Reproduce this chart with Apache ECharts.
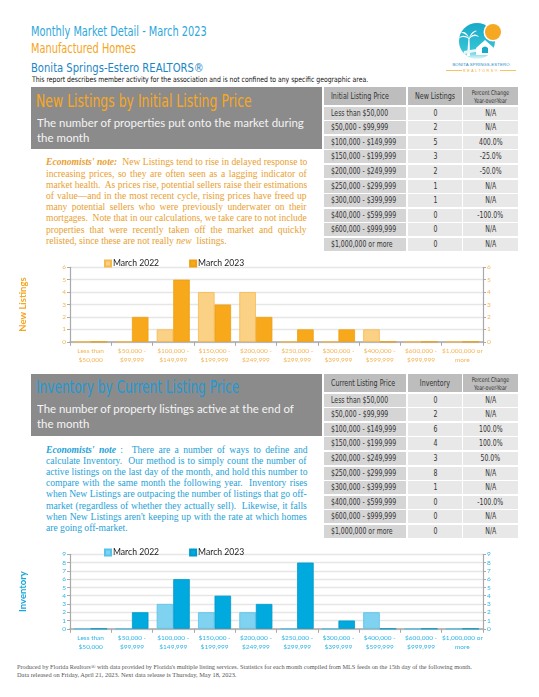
<!DOCTYPE html>
<html>
<head>
<meta charset="utf-8">
<script src="https://cdn.jsdelivr.net/npm/echarts/dist/echarts.min.js"></script>
<style>
  html, body { margin: 0; padding: 0; background: #fff; }
  #page { position: relative; width: 539px; height: 697px; overflow: hidden; }
  .t { position: absolute; white-space: nowrap; transform-origin: left center; }
  .narrow { font-family: "Liberation Sans Narrow", "DejaVu Sans Condensed", "Liberation Sans", sans-serif; }
  .cal { font-family: Lato, "Open Sans", sans-serif; }
  .serif { font-family: "Liberation Serif", "DejaVu Serif", serif; }
  .box { position: absolute; background: #8c8c8c; }
  .cell { position: absolute; height: 13px; line-height: 13px; font-size: 8.6px; color: #333; white-space: nowrap; overflow: hidden; }
  .cell span { display: inline-block; }
  .chart { position: absolute; left: 0; width: 539px; }
</style>
</head>
<body>
<div id="page"></div>
<script>
// ---- data ----
const categories = ["Less than\n$50,000", "$50,000 -\n$99,999", "$100,000 -\n$149,999", "$150,000 -\n$199,999",
  "$200,000 -\n$249,999", "$250,000 -\n$299,999", "$300,000 -\n$399,999", "$400,000 -\n$599,999",
  "$600,000 -\n$999,999", "$1,000,000 or\nmore"];
const tableRanges = ["Less than $50,000", "$50,000 - $99,999", "$100,000 - $149,999", "$150,000 - $199,999",
  "$200,000 - $249,999", "$250,000 - $299,999", "$300,000 - $399,999", "$400,000 - $599,999",
  "$600,000 - $999,999", "$1,000,000 or more"];
const newListings2022 = [0, 0, 1, 4, 4, 0, 0, 1, 0, 0];
const newListings2023 = [0, 2, 5, 3, 2, 1, 1, 0, 0, 0];
const newListingsPct = ["N/A", "N/A", "400.0%", "-25.0%", "-50.0%", "N/A", "N/A", "-100.0%", "N/A", "N/A"];
const inventory2022 = [0, 0, 3, 2, 2, 0, 0, 2, 0, 0];
const inventory2023 = [0, 2, 6, 4, 3, 8, 1, 0, 0, 0];
const inventoryPct = ["N/A", "N/A", "100.0%", "100.0%", "50.0%", "N/A", "N/A", "-100.0%", "N/A", "N/A"];
const legendNames = ["March 2022", "March 2023"];

const noteNew = [
  '<b><i>Economists\' note:</i></b>&nbsp; New Listings tend to rise in delayed response to',
  'increasing prices, so they are often seen as a lagging indicator of',
  'market health.&nbsp; As prices rise, potential sellers raise their estimations',
  'of value\u2014and in the most recent cycle, rising prices have freed up',
  'many potential sellers who were previously underwater on their',
  'mortgages.&nbsp; Note that in our calculations, we take care to not include',
  'properties that were recently taken off the market and quickly',
  'relisted, since these are not really <i>new</i>&nbsp; listings.'
];
const noteInv = [
  '<b><i>Economists\' note</i></b> :&nbsp; There are a number of ways to define and',
  'calculate Inventory.&nbsp; Our method is to simply count the number of',
  'active listings on the last day of the month, and hold this number to',
  'compare with the same month the following year.&nbsp; Inventory rises',
  'when New Listings are outpacing the number of listings that go off-',
  'market (regardless of whether they actually sell).&nbsp; Likewise, it falls',
  'when New Listings aren\'t keeping up with the rate at which homes',
  'are going off-market.'
];

const page = document.getElementById("page");

// text helper: cy = visual centre of the line, w = width to fit (scaleX)
function text(html, x, cy, fs, cls, color, w) {
  const d = document.createElement("div");
  d.className = "t " + cls;
  d.innerHTML = html;
  d.style.left = x + "px";
  d.style.top = (cy - fs / 2) + "px";
  d.style.fontSize = fs + "px";
  d.style.lineHeight = fs + "px";
  d.style.color = color;
  page.appendChild(d);
  if (w) {
    const nat = d.scrollWidth;
    d.style.transform = "scaleX(" + (w / nat) + ")";
  }
  return d;
}

// justified line: spread words to width w
function justLine(html, x, cy, fs, color, w, last) {
  const d = text(html, x, cy, fs, "serif", color, 0);
  if (last) return;
  const nat = d.scrollWidth;
  const gaps = (d.textContent.match(/[ \u00a0]/g) || []).length;
  if (nat < w && gaps) d.style.wordSpacing = ((w - nat) / gaps) + "px";
  else d.style.transform = "scaleX(" + (w / nat) + ")";
}

function rect(x, y, w, h, color) {
  const d = document.createElement("div");
  d.className = "box";
  Object.assign(d.style, { left: x + "px", top: y + "px", width: w + "px", height: h + "px", background: color });
  page.appendChild(d);
}

// table cell, text squeezed to look like a condensed face
function cell(html, x, y, w, h, bg, align, fs) {
  const d = document.createElement("div");
  d.className = "cell narrow";
  const origin = align === "left" ? "left center" : "center center";
  d.innerHTML = '<span style="transform:scaleX(0.8);transform-origin:' + origin + '">' + html + '</span>';
  Object.assign(d.style, { left: x + "px", top: y + "px", width: (w - (align === "left" ? 7 : 0)) + "px",
    height: h + "px", lineHeight: h + "px", background: bg, textAlign: align, fontSize: (fs || 8.6) + "px",
    paddingLeft: align === "left" ? "7px" : "0" });
  page.appendChild(d);
  return d;
}

function table(top, head1, head2, counts, pct) {
  const cols = [[324, 82], [408, 54], [463, 55]];
  cell(head1, cols[0][0], top, cols[0][1], 18, "#bdbdbd", "left", 8.8);
  cell(head2, cols[1][0], top, cols[1][1], 18, "#bdbdbd", "center", 8.8);
  cell('<div style="line-height:8px;padding-top:1.5px">Percent Change<br>Year-over-Year</div>',
    cols[2][0], top, cols[2][1], 18, "#bdbdbd", "center", 6.6);
  for (let i = 0; i < tableRanges.length; i++) {
    const y = top + 19.8 + i * 14.55;
    cell(tableRanges[i], cols[0][0], y, cols[0][1], 13, "#d5d5d5", "left");
    cell(String(counts[i]), cols[1][0], y, cols[1][1], 13, "#e8e8e8", "center");
    cell(pct[i], cols[2][0], y, cols[2][1], 13, "#e8e8e8", "center");
  }
}

// ---- header ----
text("Monthly Market Detail - March 2023", 31, 31, 14, "narrow", "#2ea7dd", 176);
text("Manufactured Homes", 31, 48, 14, "narrow", "#f5a623", 105);
text("Bonita Springs-Estero REALTORS\u00ae", 31, 67.5, 13, "narrow", "#1b86c4", 173);
text("This report describes member activity for the association and is not confined to any specific geographic area.",
  32, 79.5, 7.6, "narrow", "#111", 336);

// logo
const logo = document.createElement("div");
logo.style.position = "absolute"; logo.style.left = "440px"; logo.style.top = "18px";
logo.innerHTML = '<svg width="85" height="60" viewBox="0 0 85 60">' +
  '<defs><linearGradient id="lg" x1="0" y1="0" x2="0" y2="1"><stop offset="0" stop-color="#17a9c9"/><stop offset="0.75" stop-color="#36c3d6"/><stop offset="1" stop-color="#e8f8fa"/></linearGradient></defs>' +
  '<circle cx="37" cy="23" r="18" fill="url(#lg)"/>' +
  '<circle cx="53" cy="14" r="9.5" fill="#fff"/><circle cx="53" cy="14" r="8" fill="#f7a823"/>' +
  '<path d="M27 38 L28.5 20 L29.5 20 L30 38 Z" fill="#fff"/>' +
  '<path d="M29 20 C24 16 20 18 18 21 C22 18 26 19 29 21 Z M29 20 C33 15 37 16 39 19 C35 17 32 18 29 21 Z M29 20 C27 14 23 13 21 15 C24 15 27 17 29 20 Z M29 20 C31 14 35 12 37 13 C34 14 31 17 29 20 Z" fill="#fff"/>' +
  '<path d="M36 30 L45 22 L54 30 L54 37 L36 37 Z" fill="#fff"/><path d="M42 35 L42 30 Q45 27 48 30 L48 35 Z" fill="#1aa8c8"/>' +
  '<path d="M24 33 L36 31 L36 34 L24 36 Z" fill="#e9f7fa"/>' +
  '<text x="41" y="48" font-size="4.3" text-anchor="middle" fill="#1f8dc6" font-family="Liberation Sans Narrow, sans-serif" letter-spacing="0.1">BONITA SPRINGS-ESTERO</text>' +
  '<line x1="6" y1="52.5" x2="22" y2="52.5" stroke="#f5a623" stroke-width="0.7"/><line x1="60" y1="52.5" x2="76" y2="52.5" stroke="#f5a623" stroke-width="0.7"/>' +
  '<text x="41" y="54" font-size="3.6" text-anchor="middle" fill="#f5a623" font-family="Liberation Sans, sans-serif" letter-spacing="1.6">REALTORS\u00ae</text>' +
  '</svg>';
page.appendChild(logo);

// ---- section 1: new listings ----
rect(31, 87, 291, 62, "#8b8b8b");
text("New Listings by Initial Listing Price", 36, 101, 17, "narrow", "#f7a823", 216);
text("The number of properties put onto the market during", 37, 122.5, 11.5, "cal", "#f4f4f4", 267);
text("the month", 37, 137.5, 11.5, "cal", "#f4f4f4", 52);
table(87, "Initial Listing Price", "New Listings", newListings2023, newListingsPct);
const c1 = [162, 173.3, 184.3, 195.7, 207, 218.2, 229.4, 240.7];
noteNew.forEach((l, i) => justLine(l, 46, c1[i], 9.6, "#e9a030", 261, i === noteNew.length - 1));

// ---- section 2: inventory ----
rect(31, 374, 291, 62, "#8b8b8b");
text("Inventory by Current Listing Price", 36, 387.5, 17, "narrow", "#1c9ad6", 203);
text("The number of property listings active at the end of", 37, 408.5, 11.5, "cal", "#f4f4f4", 257);
text("the month", 37, 423.5, 11.5, "cal", "#f4f4f4", 52);
table(374, "Current Listing Price", "Inventory", inventory2023, inventoryPct);
const c2 = [449.3, 460.7, 471.8, 483, 494.2, 505.4, 516.7, 528];
noteInv.forEach((l, i) => justLine(l, 46, c2[i], 9.6, "#1ea2d8", 261, i === noteInv.length - 1));

// ---- footer ----
text("Produced by Florida Realtors\u00ae with data provided by Florida's multiple listing services. Statistics for each month compiled from MLS feeds on the 15th day of the following month.",
  17, 667, 6.6, "serif", "#555", 455);
text("Data released on Friday, April 21, 2023. Next data release is Thursday, May 18, 2023.",
  17, 675.5, 6.6, "serif", "#555", 219);

// ---- charts ----
function makeChart(top, height, gridTop, max, d2022, d2023, colors, name, nameColor, labelColor) {
  const el = document.createElement("div");
  el.className = "chart";
  el.style.top = top + "px";
  el.style.height = height + "px";
  page.appendChild(el);
  const chart = echarts.init(el, null, { renderer: "canvas" });
  const yAxisBase = {
    type: "value",
    min: 0,
    max: max,
    interval: 1,
    axisLine: { show: true, lineStyle: { color: "#a9a9a9", width: 1.2 } },
    axisTick: { show: true, length: 3, lineStyle: { color: "#a9a9a9" } },
    axisLabel: { fontSize: 6.5, color: labelColor, margin: 4, fontFamily: "Lato" }
  };
  chart.setOption({
    animation: false,
    textStyle: { fontFamily: "Lato" },
    legend: {
      data: legendNames,
      top: 4,
      left: 99,
      itemWidth: 6,
      itemHeight: 6,
      itemGap: 30,
      icon: "rect",
      textStyle: { fontSize: 8.6, color: "#222", padding: [0, 0, 0, -3] }
    },
    grid: { left: 70, right: 56, top: gridTop, height: 74.5 },
    xAxis: {
      type: "category",
      data: categories,
      axisLine: { lineStyle: { color: "#a9a9a9", width: 1.5 } },
      axisTick: { show: true, length: 4, lineStyle: { color: "#a9a9a9" } },
      axisLabel: { interval: 0, fontSize: 6.5, lineHeight: 8.5, color: labelColor, margin: 5 }
    },
    yAxis: [
      Object.assign({}, yAxisBase, {
        name: name,
        nameLocation: "middle",
        nameGap: 42,
        nameTextStyle: { fontSize: 9.5, color: nameColor, fontWeight: "bold" },
        splitLine: { lineStyle: { color: "#e6e6e6", width: 1.3 } }
      }),
      Object.assign({}, yAxisBase, { position: "right", splitLine: { show: false } })
    ],
    series: [
      {
        name: legendNames[0],
        type: "bar",
        data: d2022,
        barGap: 0,
        barCategoryGap: "20%",
        itemStyle: { color: colors[0], borderColor: colors[1], borderWidth: 0.8 }
      },
      {
        name: legendNames[1],
        type: "bar",
        data: d2023,
        itemStyle: { color: colors[2], borderColor: colors[3], borderWidth: 0.8 }
      }
    ]
  });
}

makeChart(250, 122, 17.3, 6, newListings2022, newListings2023,
  ["#fbd186", "#f5b94e", "#f7a81b", "#ef9f12"], "New Listings", "#f5a623", "#f3b456");
makeChart(539, 120, 15.3, 9, inventory2022, inventory2023,
  ["#7fd2f0", "#55c3ea", "#00a9de", "#0099cc"], "Inventory", "#19a6dc", "#2fb3e4");
</script>
</body>
</html>
